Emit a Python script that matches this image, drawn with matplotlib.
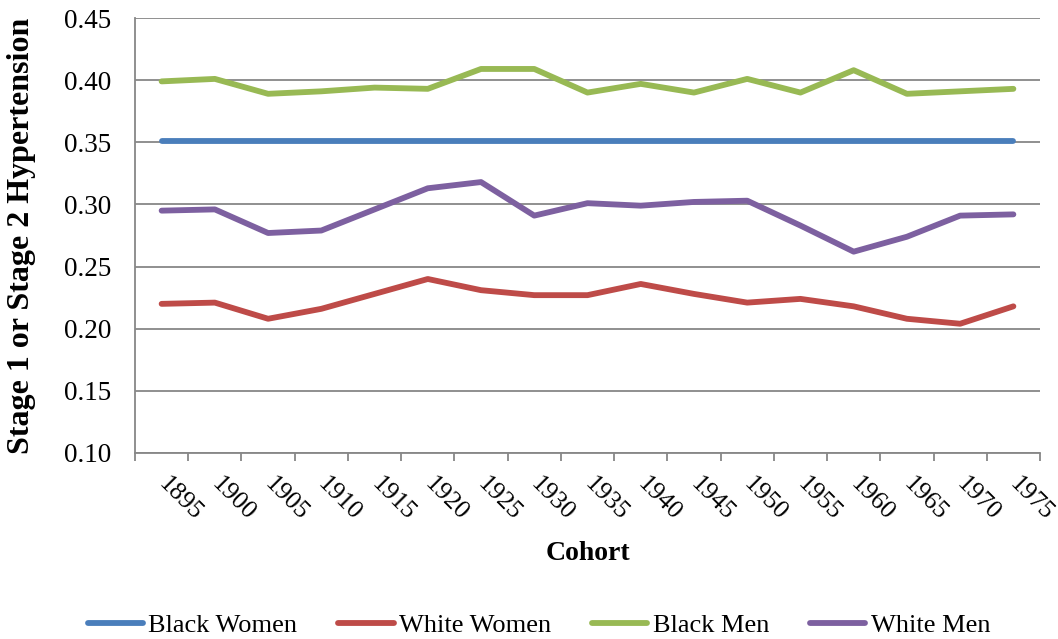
import matplotlib
matplotlib.use("Agg")
import matplotlib.pyplot as plt
import numpy as np

cohorts = ["1895", "1900", "1905", "1910", "1915", "1920", "1925", "1930", "1935",
           "1940", "1945", "1950", "1955", "1960", "1965", "1970", "1975"]
black_women = [0.351] * 17
white_women = [0.220, 0.221, 0.208, 0.216, 0.228, 0.240, 0.231, 0.227, 0.227,
               0.236, 0.228, 0.221, 0.224, 0.218, 0.208, 0.204, 0.218]
black_men = [0.399, 0.401, 0.389, 0.391, 0.394, 0.393, 0.409, 0.409, 0.390,
             0.397, 0.390, 0.401, 0.390, 0.408, 0.389, 0.391, 0.393]
white_men = [0.295, 0.296, 0.277, 0.279, 0.296, 0.313, 0.318, 0.291, 0.301,
             0.299, 0.302, 0.303, 0.283, 0.262, 0.274, 0.291, 0.292]
yticks = [0.10, 0.15, 0.20, 0.25, 0.30, 0.35, 0.40, 0.45]

plt.rcParams['font.family'] = ['Liberation Serif', 'DejaVu Serif']

fig = plt.figure(figsize=(10.58, 6.39), dpi=100)
ax = fig.add_axes([135/1058, 1 - 453/639, 905/1058, 435/639])

x = np.arange(len(cohorts))
series = [("Black Women", black_women, "#4A7EBB"),
          ("White Women", white_women, "#BE4B48"),
          ("Black Men", black_men, "#98B954"),
          ("White Men", white_men, "#7D60A0")]
for name, vals, col in series:
    ax.plot(x, vals, color=col, lw=4.2, label=name, solid_capstyle='round',
            solid_joinstyle='round', zorder=3)

ax.set_xlim(-0.5, len(cohorts) - 0.5)
ax.set_ylim(0.10, 0.45)
ax.set_yticks(yticks)
ax.set_yticklabels([f"{v:.2f}" for v in yticks], fontsize=19.5)
ax.yaxis.grid(True, color="#878787", lw=1.3)
ax.set_axisbelow(True)
ax.tick_params(axis='y', length=0, pad=17)

ax.set_xticks(x)
ax.set_xticklabels(cohorts, fontsize=18.5, rotation=-45, ha='left', va='center',
                   rotation_mode='anchor')
ax.tick_params(axis='x', which='major', length=0, pad=20)
ax.set_xticks(np.arange(-0.5, len(cohorts)), minor=True)
ax.tick_params(axis='x', which='minor', length=6, width=1.3, color="#878787", direction='out')

for s in ['top', 'right']:
    ax.spines[s].set_visible(False)
for s in ['left', 'bottom']:
    ax.spines[s].set_color("#878787")
    ax.spines[s].set_linewidth(1.3)

ax.set_xlabel("Cohort", fontsize=20, fontweight='bold', va='center')
ax.xaxis.set_label_coords(0.5, (453 - 553) / 435)
ax.set_ylabel("Stage 1 or Stage 2 Hypertension", fontsize=23, fontweight='bold', va='center')
ax.yaxis.set_label_coords((22 - 135) / 905, 0.5)

fig.legend(loc='center', bbox_to_anchor=(539/1058, 1 - 625/639), ncol=4, frameon=False,
           fontsize=19, handlelength=2.1, handletextpad=0.2, columnspacing=1.55)

fig.savefig("out.png", dpi=100)
